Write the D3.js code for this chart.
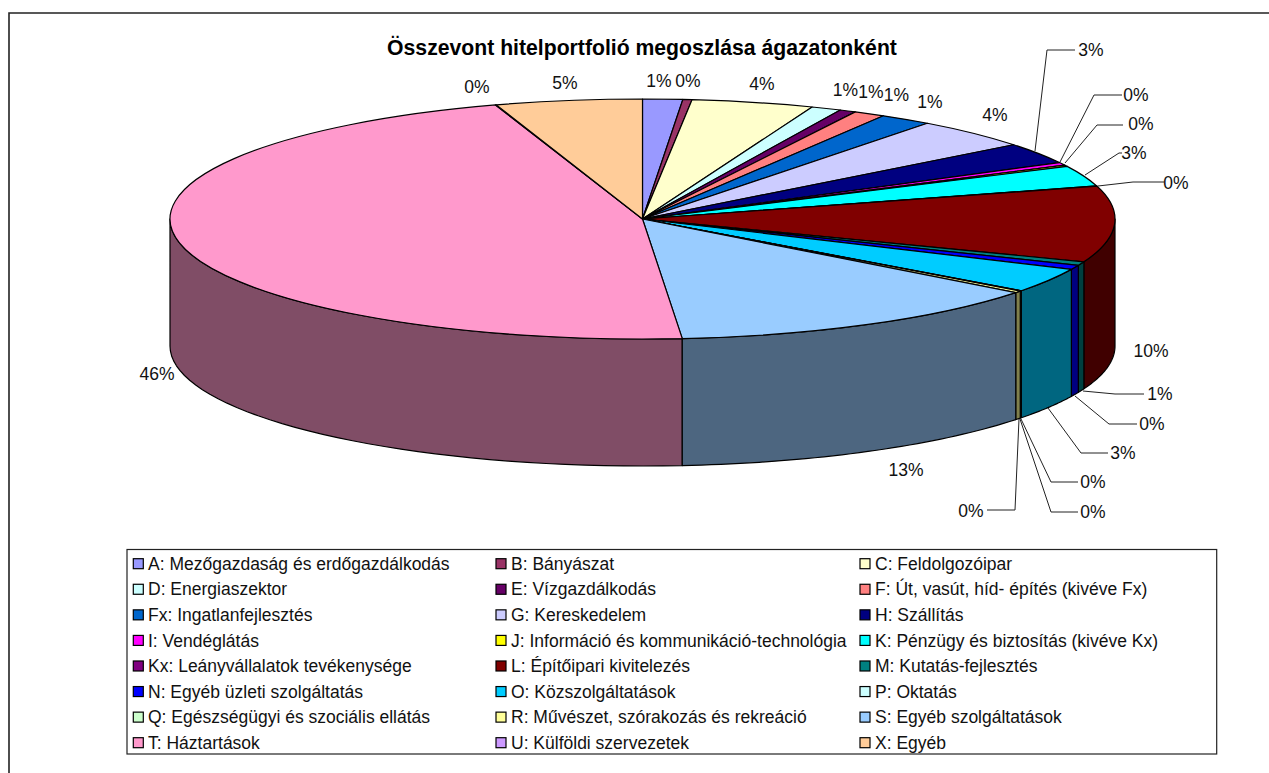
<!DOCTYPE html>
<html><head><meta charset="utf-8">
<script src="https://cdn.jsdelivr.net/npm/d3@7/dist/d3.min.js"></script>
<style>html,body{margin:0;padding:0;background:#fff}svg{display:block}text{font-family:"Liberation Sans",Arial,sans-serif;fill:#111}</style>
</head><body><svg id="c" width="1269" height="773"></svg>
<script>
const title = "Összevont hitelportfolió megoszlása ágazatonként";
const categories = ["A: Mezőgazdaság és erdőgazdálkodás","B: Bányászat","C: Feldolgozóipar","D: Energiaszektor","E: Vízgazdálkodás","F: Út, vasút, híd- építés (kivéve Fx)","Fx: Ingatlanfejlesztés","G: Kereskedelem","H: Szállítás","I: Vendéglátás","J: Információ és kommunikáció-technológia","K: Pénzügy és biztosítás (kivéve Kx)","Kx: Leányvállalatok tevékenysége","L: Építőipari kivitelezés","M: Kutatás-fejlesztés","N: Egyéb üzleti szolgáltatás","O: Közszolgáltatások","P: Oktatás","Q: Egészségügyi és szociális ellátás","R: Művészet, szórakozás és rekreáció","S: Egyéb szolgáltatások","T: Háztartások","U: Külföldi szervezetek","X: Egyéb"];
const shares = [1.36,0.31,4.17,1.03,0.56,1.08,1.78,4.08,2.82,0.38,0.19,2.78,0.04,10.2,0.5,0.58,3.3,0.04,0.02,0.25,13.14,46.26,0.03,5.0];
const percentLabels = ["1%","0%","4%","1%","1%","1%","1%","4%","3%","0%","0%","3%","0%","10%","1%","0%","3%","0%","0%","0%","13%","46%","0%","5%"];
const colors = ["#9999FF","#993366","#FFFFCC","#CCFFFF","#660066","#FF8080","#0066CC","#CCCCFF","#000080","#FF00FF","#FFFF00","#00FFFF","#800080","#800000","#008080","#0000FF","#00CCFF","#CCFFFF","#CCFFCC","#FFFF99","#99CCFF","#FF99CC","#CC99FF","#FFCC99"];

// layout
const svg = d3.select("#c");
const cx=642.5, cy=219, rx=472.5, ry=120, depth=127;
const FS=17.5;
svg.append("path").attr("d","M1269,13H9V773").attr("fill","none").attr("stroke","#222").attr("stroke-width",1.6);
svg.append("text").attr("x",642).attr("y",55).attr("text-anchor","middle").attr("font-size",21.2).attr("font-weight","bold").attr("style","fill:#000").text(title);

const total=d3.sum(shares);
const arcs=d3.pie().sort(null).value(d=>d).startAngle(0).endAngle(2*Math.PI)(shares.map(v=>v*100/total));
const px=a=>cx+rx*Math.sin(a), py=a=>cy-ry*Math.cos(a);
const line=d3.line();

// side walls
const H=Math.PI/2, W=3*Math.PI/2;
const walls=arcs.map((a,i)=>({s:Math.max(a.startAngle,H),e:Math.min(a.endAngle,W),i})).filter(w=>w.e>w.s);
walls.sort((p,q)=>Math.abs(Math.PI-(q.s+q.e)/2)-Math.abs(Math.PI-(p.s+p.e)/2));
walls.forEach(w=>{
  const ts=d3.range(0,41).map(k=>w.s+(w.e-w.s)*k/40);
  const pts=ts.map(t=>[px(t),py(t)]).concat(ts.slice().reverse().map(t=>[px(t),py(t)+depth]));
  const c=d3.rgb(colors[w.i]);
  svg.append("path").attr("d",line(pts)+"Z").attr("fill",d3.rgb(c.r/2,c.g/2,c.b/2)).attr("stroke","#000").attr("stroke-width",1.2).attr("stroke-linejoin","round");
});

// top face
const arcGen=d3.arc().innerRadius(0).outerRadius(rx);
const topFace=svg.append("g").attr("transform",`translate(${cx},${cy}) scale(1,${ry/rx})`);
topFace.selectAll("path").data(arcs).join("path").attr("d",arcGen).attr("fill",(d,i)=>colors[i]).attr("stroke","#000").attr("stroke-width",1.2).attr("stroke-linejoin","round").attr("vector-effect","non-scaling-stroke");

// data labels: [label x, label y] per slice, with optional elbow leader
const labelSpots=[[659,81],[688,81],[762,84],[845.5,90],[871,92],[896.5,95],[930,102],[995,115],[1091,50],[1136,95],[1141,124],[1134,153],[1176,183],[1151,351],[1160,394],[1152,424],[1123,453],[1093,482],[1093,512],[971,511],[906,470],[157,374],[477,87],[565,83]];
const leaders={8:[[1035,151],[1047,50],[1075,50]],9:[[1060,162],[1094,95],[1122,95]],10:[[1065,163],[1097,125],[1123,125]],11:[[1085,175],[1119,153],[1122,153]],12:[[1098,186],[1133,182],[1164,182]],14:[[1083,391],[1115,394],[1144,394]],15:[[1075,396],[1109,424],[1137,424]],16:[[1048,408],[1081,453],[1108,453]],17:[[1021,419],[1051,482],[1078,482]],18:[[1020,419],[1051,512],[1078,512]],19:[[1019,419],[1015,510],[987,510]]};
Object.values(leaders).forEach(p=>svg.append("path").attr("d",line(p)).attr("fill","none").attr("stroke","#222").attr("stroke-width",1));
svg.selectAll("text.pct").data(percentLabels).join("text").attr("class","pct").attr("x",(d,i)=>labelSpots[i][0]).attr("y",(d,i)=>labelSpots[i][1]+6.2).attr("text-anchor","middle").attr("font-size",FS).text(d=>d);

// legend
const lg=svg.append("g");
lg.append("rect").attr("x",127).attr("y",549.5).attr("width",1089.7).attr("height",204.5).attr("fill","#fff").attr("stroke","#222").attr("stroke-width",1.2);
const colX=d3.scaleOrdinal().domain([0,1,2]).range([133.3,496,860]);
const textX=d3.scaleOrdinal().domain([0,1,2]).range([148,511,875]);
const rowY=d3.scaleLinear().domain([0,7]).range([563.7,742.7]);
categories.forEach((c,i)=>{
  const col=i%3,row=Math.floor(i/3);
  lg.append("rect").attr("x",colX(col)).attr("y",rowY(row)-5).attr("width",10).attr("height",10).attr("fill",colors[i]).attr("stroke","#000").attr("stroke-width",1.2);
  lg.append("text").attr("x",textX(col)).attr("y",rowY(row)+6.2).attr("font-size",FS).text(c);
});
</script></body></html>
